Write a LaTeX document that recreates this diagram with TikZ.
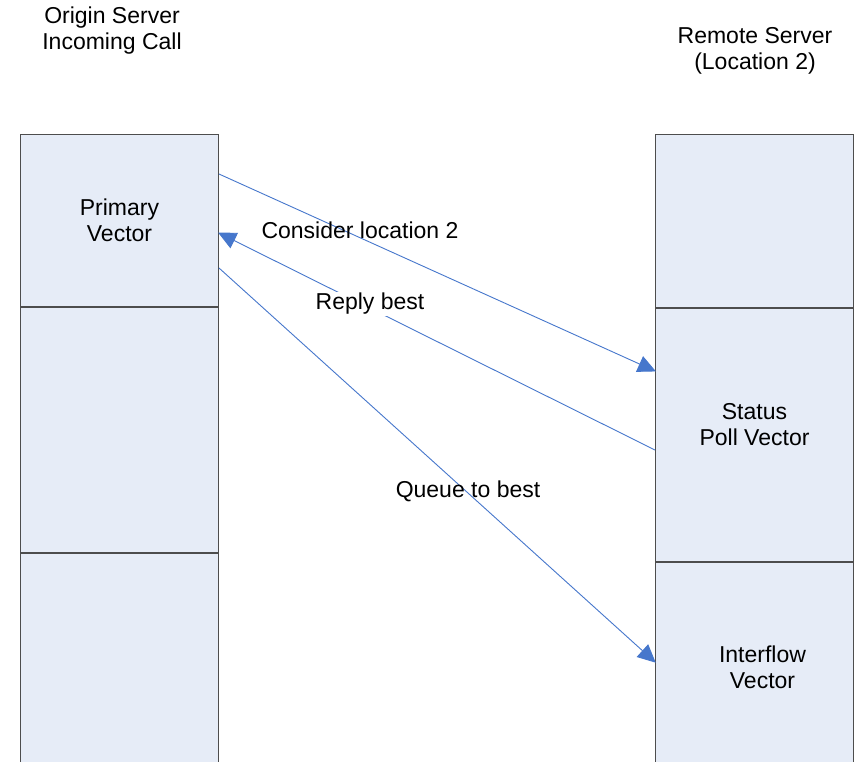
\documentclass[tikz,border=0pt]{standalone}
\usepackage{fontspec}
\setmainfont{Liberation Sans}
\usetikzlibrary{arrows.meta, positioning}
\definecolor{cellfill}{HTML}{E6ECF7}
\definecolor{cellline}{HTML}{4D4D4D}
\definecolor{callblue}{HTML}{4677CC}
\tikzstyle{cell} = [rectangle, minimum width=198pt, inner sep=0pt, draw=cellline, line width=1pt, fill=cellfill, align=center]
\tikzstyle{heading} = [align=center, inner sep=0pt]
\tikzstyle{msg} = [inner sep=1pt]
\tikzstyle{call} = [draw=callblue, line width=0.9pt, -{Triangle[length=18pt,width=17pt]}, shorten >=-1pt]
\tikzstyle{back} = [draw=callblue, line width=0.9pt, {Triangle[length=18pt,width=17pt]}-, shorten <=-1pt]

\begin{document}
\begin{tikzpicture}[x=1pt, y=-1pt, font=\fontsize{23}{26}\selectfont]
		\useasboundingbox (0,0) rectangle (864,761);
		\fill[white] (0,0) rectangle (864,761);

		% origin side
		\node (primary) [cell, minimum height=172pt, anchor=north west] at (20,134) {Primary\\Vector};
		\node (originmid) [cell, minimum height=245pt, below=0pt of primary] {};
		\node (originlow) [cell, minimum height=229pt, below=0pt of originmid] {};
		\node (originhead) [heading] at (112,31) {Origin Server\\Incoming Call};

		% remote side
		\node (remotetop) [cell, minimum height=173pt, anchor=north west] at (655,134) {};
		\node (status) [cell, minimum height=253pt, below=0pt of remotetop] {};
		\node (interflow) [cell, minimum height=210pt, below=0pt of status] {};
		\node (remotehead) [heading] at (755,51) {Remote Server\\(Location 2)};
		\node (statustext) [heading] at ([yshift=10pt]status.center) {Status\\Poll Vector};
		\node (interflowtext) [heading] at ([xshift=8pt]interflow.center) {Interflow\\Vector};

		% message end points on the borders (canvas y points up)
		\coordinate (ask) at ([yshift=-40pt]primary.north east);
		\coordinate (answer) at ([yshift=-99pt]primary.north east);
		\coordinate (send) at ([yshift=-134pt]primary.north east);
		\coordinate (askin) at ([yshift=-63pt]status.north west);
		\coordinate (answerout) at ([yshift=-142pt]status.north west);
		\coordinate (sendin) at ([yshift=-100pt]interflow.north west);

		\draw [call] (ask) -- (askin);
		\draw [back] (answer) -- (answerout);
		\draw [call] (send) -- (sendin);

		\node (consider) [msg] at (360,230) {Consider location 2};
		\node (reply) [msg, fill=white] at (370,304) {Reply best};
		\node (queue) [msg] at (468,491) {Queue to best};
	\end{tikzpicture}
\end{document}
